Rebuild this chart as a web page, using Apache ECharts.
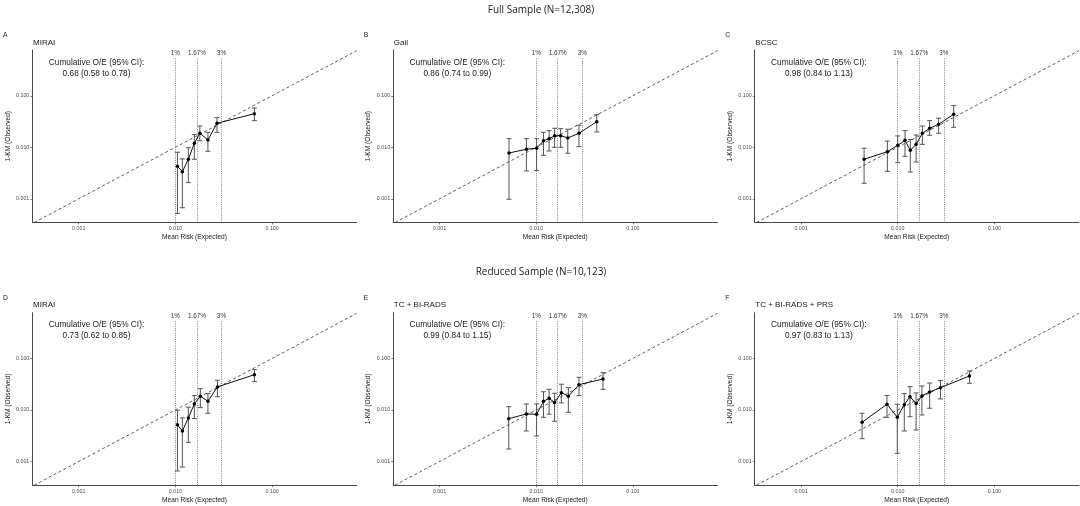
<!DOCTYPE html>
<html>
<head>
<meta charset="utf-8">
<script src="https://cdn.jsdelivr.net/npm/echarts@6/dist/echarts.min.js"></script>
<style>
html, body { margin: 0; padding: 0; background: #fff; }
#chart { width: 1080px; height: 506px; }
</style>
</head>
<body>
<div id="chart"></div>
<script>
// 数据: 期望风险 / 观察值 / 95% CI
var miraiFullExp = [0.0105, 0.0118, 0.0136, 0.0157, 0.0179, 0.0217, 0.0269, 0.0656];
var miraiFullObs = [0.00428, 0.00336, 0.00585, 0.0120, 0.0187, 0.0139, 0.0292, 0.0449];
var miraiFullLo  = [0.00052, 0.00067, 0.00206, 0.00585, 0.0134, 0.00836, 0.0195, 0.0329];
var miraiFullHi  = [0.0080, 0.00593, 0.0098, 0.0176, 0.0259, 0.0195, 0.0376, 0.058];

var gailExp = [0.00523, 0.00792, 0.0101, 0.0119, 0.0136, 0.0155, 0.0179, 0.0212, 0.0277, 0.0423];
var gailObs = [0.00775, 0.00915, 0.00957, 0.0134, 0.0147, 0.0168, 0.0168, 0.0152, 0.0187, 0.0314];
var gailLo  = [0.00098, 0.00347, 0.00352, 0.0070, 0.00848, 0.0100, 0.0100, 0.00765, 0.0103, 0.0198];
var gailHi  = [0.0147, 0.0147, 0.0147, 0.0195, 0.0210, 0.0234, 0.0230, 0.0224, 0.0267, 0.0430];

var bcscExp = [0.00449, 0.00782, 0.0100, 0.0119, 0.0135, 0.0155, 0.0180, 0.0214, 0.0265, 0.0379];
var bcscObs = [0.00585, 0.00822, 0.0109, 0.0137, 0.00875, 0.0114, 0.0187, 0.0234, 0.0280, 0.0437];
var bcscLo  = [0.0020, 0.00342, 0.00502, 0.00668, 0.00331, 0.00519, 0.0114, 0.0171, 0.0187, 0.0244];
var bcscHi  = [0.00957, 0.0132, 0.0166, 0.0210, 0.0141, 0.0173, 0.0259, 0.0329, 0.0366, 0.0643];

var miraiRedExp = [0.0105, 0.0118, 0.0136, 0.0157, 0.0181, 0.0217, 0.0272, 0.0656];
var miraiRedObs = [0.00519, 0.00391, 0.0070, 0.0131, 0.0185, 0.0148, 0.0280, 0.0484];
var miraiRedLo  = [0.000655, 0.00078, 0.00236, 0.0068, 0.0111, 0.00863, 0.0181, 0.0355];
var miraiRedHi  = [0.00987, 0.0070, 0.0113, 0.0190, 0.0259, 0.0208, 0.0378, 0.0606];

var tcExp = [0.0052, 0.0079, 0.0101, 0.0119, 0.0136, 0.0155, 0.0182, 0.0215, 0.0277, 0.0491];
var tcObs = [0.00678, 0.00836, 0.00826, 0.0148, 0.0169, 0.0139, 0.0217, 0.0185, 0.0310, 0.0400];
var tcLo  = [0.00175, 0.00391, 0.00313, 0.00721, 0.00826, 0.00604, 0.0137, 0.00902, 0.0190, 0.0252];
var tcHi  = [0.0116, 0.0131, 0.0131, 0.0226, 0.0252, 0.0211, 0.0316, 0.0271, 0.0431, 0.0530];

var tcPrsExp = [0.00428, 0.00775, 0.0099, 0.0117, 0.0134, 0.0155, 0.0178, 0.0214, 0.0277, 0.0552];
var tcPrsObs = [0.00577, 0.0129, 0.00721, 0.0127, 0.0181, 0.0133, 0.0187, 0.0224, 0.0271, 0.0457];
var tcPrsLo  = [0.00277, 0.00721, 0.00144, 0.00391, 0.0074, 0.00409, 0.0080, 0.0108, 0.0164, 0.0330];
var tcPrsHi  = [0.00863, 0.0190, 0.0129, 0.0207, 0.0283, 0.0214, 0.0292, 0.0334, 0.0371, 0.0571];

var panelLetters = ['A', 'B', 'C', 'D', 'E', 'F'];
var panelTitles = ['MIRAI', 'Gail', 'BCSC', 'MIRAI', 'TC + BI-RADS', 'TC + BI-RADS + PRS'];
var panelOE = ['0.68 (0.58 to 0.78)', '0.86 (0.74 to 0.99)', '0.98 (0.84 to 1.13)',
               '0.73 (0.62 to 0.85)', '0.99 (0.84 to 1.15)', '0.97 (0.83 to 1.13)'];
var rowTitles = ['Full Sample (N=12,308)', 'Reduced Sample (N=10,123)'];
var cutoffs = [0.01, 0.0167, 0.03];
var cutoffLabels = ['1%', '1.67%', '3%'];
var tickValues = [0.001, 0.01, 0.1];

var panelData = [
    [miraiFullExp, miraiFullObs, miraiFullLo, miraiFullHi],
    [gailExp, gailObs, gailLo, gailHi],
    [bcscExp, bcscObs, bcscLo, bcscHi],
    [miraiRedExp, miraiRedObs, miraiRedLo, miraiRedHi],
    [tcExp, tcObs, tcLo, tcHi],
    [tcPrsExp, tcPrsObs, tcPrsLo, tcPrsHi]
];

// 布局
var colLeft = [32.3, 393.1, 754.6];
var rowTop = [50, 312.7];
var gridW = 324.4, gridH = 172.5;
var xMin = -3.48, xMax = -0.125, yMin = -3.46, yMax = -0.112;
var FONT = 'Liberation Sans';

var lg = function (v) { return Math.log(v) / Math.LN10; };
var logTicks = tickValues.map(lg);

var grids = [], xAxes = [], yAxes = [], series = [], graphics = [];

rowTitles.forEach(function (t, r) {
    graphics.push({
        type: 'text', x: 541, y: r === 0 ? 10 : 272,
        style: { text: t, fontFamily: 'Open Sans', fontSize: 10, fill: '#1a1a1a',
                 textAlign: 'center', textVerticalAlign: 'middle' }
    });
});

panelData.forEach(function (d, i) {
    var c = i % 3, r = Math.floor(i / 3);
    var left = colLeft[c], top = rowTop[r];
    grids.push({ left: left, top: top, width: gridW, height: gridH });

    xAxes.push({
        type: 'value', gridIndex: i, min: xMin, max: xMax,
        name: 'Mean Risk (Expected)', nameLocation: 'middle', nameGap: 11.5,
        nameTextStyle: { fontSize: 6.6, color: '#1a1a1a', fontFamily: FONT },
        splitLine: { show: false },
        axisLine: { lineStyle: { color: '#333', width: 0.9 } },
        axisTick: { customValues: logTicks, length: 2, lineStyle: { color: '#333', width: 0.6 } },
        axisLabel: {
            customValues: logTicks, margin: 3.5, fontSize: 5.3, color: '#4d4d4d', fontFamily: FONT,
            formatter: function (v) { return Math.pow(10, v).toFixed(3); }
        }
    });
    yAxes.push({
        type: 'value', gridIndex: i, min: yMin, max: yMax,
        name: '1-KM (Observed)', nameLocation: 'middle', nameGap: 21,
        nameTextStyle: { fontSize: 6.6, color: '#1a1a1a', fontFamily: FONT },
        splitLine: { show: false },
        axisLine: { lineStyle: { color: '#333', width: 0.9 } },
        axisTick: { customValues: logTicks, length: 2, lineStyle: { color: '#333', width: 0.6 } },
        axisLabel: {
            customValues: logTicks, margin: 3, fontSize: 5.3, color: '#4d4d4d', fontFamily: FONT,
            formatter: function (v) { return Math.pow(10, v).toFixed(3); }
        }
    });

    // 对角线 + 阈值竖线
    series.push({
        type: 'line', xAxisIndex: i, yAxisIndex: i, silent: true,
        data: [[yMin, yMin], [xMax, xMax]], symbol: 'none',
        lineStyle: { color: '#333', width: 0.8, type: [3, 2.5] },
        markLine: {
            silent: true, symbol: 'none', animation: false,
            lineStyle: { color: '#555', width: 0.7, type: [1, 1.2] },
            label: { show: true, position: 'end', distance: 2, fontSize: 6.3,
                     color: '#333', fontFamily: FONT },
            data: cutoffs.map(function (v, k) {
                return [{ coord: [lg(v), yMin], label: { formatter: cutoffLabels[k] } },
                        { coord: [lg(v), -0.28] }];
            })
        }
    });

    // 误差线
    series.push({
        type: 'custom', xAxisIndex: i, yAxisIndex: i, silent: true,
        data: d[0].map(function (e, k) { return [lg(e), lg(d[2][k]), lg(d[3][k])]; }),
        renderItem: function (params, api) {
            var lo = api.coord([api.value(0), api.value(1)]);
            var hi = api.coord([api.value(0), api.value(2)]);
            var w = 2.5;
            var st = { stroke: '#555', lineWidth: 1 };
            return {
                type: 'group', children: [
                    { type: 'line', shape: { x1: lo[0], y1: lo[1], x2: hi[0], y2: hi[1] }, style: st },
                    { type: 'line', shape: { x1: lo[0] - w, y1: lo[1], x2: lo[0] + w, y2: lo[1] }, style: st },
                    { type: 'line', shape: { x1: hi[0] - w, y1: hi[1], x2: hi[0] + w, y2: hi[1] }, style: st }
                ]
            };
        }
    });

    // 观察值
    series.push({
        type: 'line', xAxisIndex: i, yAxisIndex: i, z: 5, silent: true,
        data: d[0].map(function (e, k) { return [lg(e), lg(d[1][k])]; }),
        symbol: 'circle', symbolSize: 3.5,
        itemStyle: { color: '#000' },
        lineStyle: { color: '#111', width: 1 }
    });

    graphics.push({
        type: 'text', x: left - 29.3, y: top - 15,
        style: { text: panelLetters[i], fontFamily: FONT, fontSize: 6.8, fill: '#1a1a1a',
                 textAlign: 'left', textVerticalAlign: 'middle' }
    });
    graphics.push({
        type: 'text', x: left + 0.7, y: top - 7.5,
        style: { text: panelTitles[i], fontFamily: FONT, fontSize: 8, fill: '#1a1a1a',
                 textAlign: 'left', textVerticalAlign: 'middle' }
    });
    graphics.push({
        type: 'text', x: left + 64.2, y: top + 12.3,
        style: { text: 'Cumulative O/E (95% CI):', fontFamily: FONT, fontSize: 8.3, fill: '#1a1a1a',
                 textAlign: 'center', textVerticalAlign: 'middle' }
    });
    graphics.push({
        type: 'text', x: left + 64.2, y: top + 23.3,
        style: { text: panelOE[i], fontFamily: FONT, fontSize: 8.3, fill: '#1a1a1a',
                 textAlign: 'center', textVerticalAlign: 'middle' }
    });
});

var option = {
    animation: false,
    backgroundColor: '#fff',
    textStyle: { fontFamily: FONT },
    grid: grids,
    xAxis: xAxes,
    yAxis: yAxes,
    series: series,
    graphic: graphics
};

var chart = echarts.init(document.getElementById('chart'));
chart.setOption(option);
window.addEventListener('resize', function () { chart.resize(); });
</script>
</body>
</html>
